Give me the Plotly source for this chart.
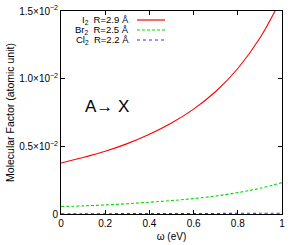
import plotly.graph_objects as go

omega = [0.0, 0.1, 0.2, 0.3, 0.4, 0.5, 0.6, 0.7, 0.8, 0.9, 1.0]
i2 = [0.00377, 0.00418, 0.00464, 0.00520, 0.00589, 0.00672, 0.00775, 0.00905, 0.01075, 0.01300, 0.01600]
br2 = [0.00055, 0.00060, 0.00067, 0.00076, 0.00087, 0.00099, 0.00114, 0.00133, 0.00158, 0.00190, 0.00232]
cl2 = [0.00002, 0.00002, 0.00002, 0.00003, 0.00003, 0.00003, 0.00004, 0.00004, 0.00005, 0.00005, 0.00006]

series_names = ["I<sub>2</sub>  R=2.9 Å", "Br<sub>2</sub>  R=2.5 Å", "Cl<sub>2</sub>  R=2.2 Å"]
colors = ["#ff0000", "#00dd00", "#3333ff"]
dashes = ["solid", "3px,2px", "dot"]

yticks = [0, 0.005, 0.010, 0.015]
yticklabels = ["0", "0.5×10<sup>−2</sup>", "1.0×10<sup>−2</sup>", "1.5×10<sup>−2</sup>"]
xticks = [0, 0.2, 0.4, 0.6, 0.8, 1.0]
xticklabels = ["0", "0.2", "0.4", "0.6", "0.8", "1"]

fig = go.Figure()
for ys, c, d in zip([i2, br2, cl2], colors, dashes):
    fig.add_trace(go.Scatter(x=omega, y=ys, mode="lines", line=dict(color=c, width=1.1, dash=d, shape="spline"),
                             showlegend=False))

font = "Liberation Sans, Arial, sans-serif"
PX0, PX1, PY0, PY1 = 61, 282, 11, 214
def px(x):
    return (x - PX0) / (PX1 - PX0)
def py(y):
    return 1 - (y - PY0) / (PY1 - PY0)

rows_y = [20, 30, 40]
for name, c, d, yy in zip(series_names, colors, dashes, rows_y):
    fig.add_annotation(x=px(131), y=py(yy), xref="paper", yref="paper", text=name, showarrow=False,
                       xanchor="right", yanchor="middle", font=dict(size=9.5, color="black", family=font))
    fig.add_shape(type="line", xref="paper", yref="paper", x0=px(137), x1=px(165), y0=py(yy), y1=py(yy),
                  line=dict(color=c, width=1.2, dash=d))

fig.add_annotation(x=px(83), y=py(106), xref="paper", yref="paper", text="A→ X",
                   showarrow=False, xanchor="left", yanchor="middle", font=dict(size=17, color="black", family=font))

axis_common = dict(showline=True, linecolor="black", linewidth=1, mirror="ticks", ticks="inside", ticklen=4,
                   tickcolor="black", showgrid=False, zeroline=False, automargin=False,
                   tickfont=dict(size=10, family=font, color="black"))
fig.update_xaxes(range=[0, 1], tickvals=xticks, ticktext=xticklabels,
                 title=dict(text="ω (eV)", font=dict(size=10, family=font, color="black"), standoff=4), **axis_common)
fig.update_yaxes(range=[0, 0.015], tickvals=yticks, ticktext=yticklabels,
                 title=dict(text="Molecular Factor (atomic unit)", font=dict(size=10.5, family=font, color="black"), standoff=2),
                 **axis_common)
fig.update_layout(width=300, height=245, margin=dict(l=61, r=18, t=11, b=31), plot_bgcolor="white",
                  paper_bgcolor="white", showlegend=False)
fig.write_html("out.html", config={"displayModeBar": False, "staticPlot": True},
               post_script="document.body.style.margin='0';document.body.style.overflow='hidden';")
